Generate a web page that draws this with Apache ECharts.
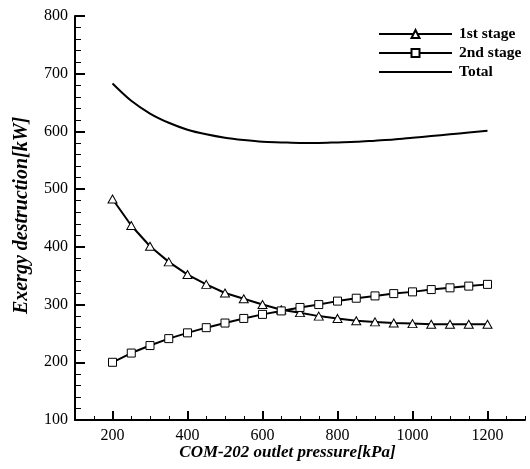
<!DOCTYPE html>
<html>
<head>
<meta charset="utf-8">
<style>
  html, body { margin: 0; padding: 0; background: #fff; }
  #chart { width: 530px; height: 469px; }
</style>
<script src="https://cdn.jsdelivr.net/npm/echarts@6/dist/echarts.min.js"></script>
</head>
<body>
<div id="chart"></div>
<script>
// Data
const pressure = [200, 250, 300, 350, 400, 450, 500, 550, 600, 650, 700, 750, 800, 850, 900, 950, 1000, 1050, 1100, 1150, 1200];
const firstStage = [483, 437, 401, 374, 352, 335, 320, 310, 300, 291, 286, 280, 276, 272, 270, 268, 267, 266, 266, 266, 266];
const secondStage = [200, 216, 229, 241, 251, 260, 268, 276, 283, 289, 295, 300, 306, 311, 315, 319, 322, 326, 329, 332, 335];
const total = [683, 653, 631, 615, 603, 595, 589, 585, 582, 581, 580, 580, 581, 582, 584, 586, 589, 592, 595, 598, 601];
const xMajorTicks = [200, 400, 600, 800, 1000, 1200];
const seriesNames = ['1st stage', '2nd stage', 'Total'];

const FONT = '"Liberation Serif", "Times New Roman", serif';

function pairs(xs, ys) { return xs.map((x, i) => [x, ys[i]]); }

const chart = echarts.init(document.getElementById('chart'), null, { renderer: 'canvas' });

const lineStyle = { color: '#000', width: 2 };
const markerStyle = { color: '#fff', borderColor: '#000', borderWidth: 1 };

chart.setOption({
  backgroundColor: '#fff',
  animation: false,
  grid: { left: 75, right: 5, top: 16, bottom: 49, containLabel: false },
  legend: {
    orient: 'vertical',
    left: 373,
    top: 21,
    itemWidth: 73,
    itemHeight: 10,
    itemGap: 3,
    data: [
      { name: seriesNames[0] },
      { name: seriesNames[1] },
      { name: seriesNames[2], itemStyle: { color: 'rgba(0,0,0,0)', borderColor: 'rgba(0,0,0,0)', borderWidth: 0, opacity: 0 } }
    ],
    textStyle: { fontFamily: FONT, fontSize: 15.5, fontWeight: 'bold', color: '#000', padding: [0, 0, 0, 2] }
  },
  xAxis: [
    {
      type: 'value', min: 100, max: 1300, interval: 50,
      axisLine: { show: true, lineStyle: { color: '#000', width: 2 } },
      axisTick: { show: true, inside: true, length: 4, lineStyle: { color: '#000', width: 1 } },
      axisLabel: { show: false },
      splitLine: { show: false },
      name: 'COM-202 outlet pressure[kPa]',
      nameLocation: 'middle',
      nameGap: 24,
      nameTextStyle: { fontFamily: FONT, fontSize: 17, fontWeight: 'bold', fontStyle: 'italic', color: '#000', padding: [0, 25, 0, 0] }
    },
    {
      type: 'value', min: 100, max: 1300, position: 'bottom',
      axisLine: { show: false },
      axisTick: { show: true, inside: true, length: 9, customValues: xMajorTicks, lineStyle: { color: '#000', width: 2 } },
      axisLabel: { show: true, customValues: xMajorTicks, margin: 8, fontFamily: FONT, fontSize: 16, color: '#000',
                   formatter: (v) => String(v) },
      splitLine: { show: false }
    }
  ],
  yAxis: {
    type: 'value', min: 100, max: 800, interval: 100,
    axisLine: { show: true, lineStyle: { color: '#000', width: 2 } },
    axisTick: { show: true, inside: true, length: 10, lineStyle: { color: '#000', width: 2 } },
    minorTick: { show: true, splitNumber: 5, length: 6, lineStyle: { color: '#000', width: 1 } },
    axisLabel: { margin: 7, fontFamily: FONT, fontSize: 16, color: '#000' },
    splitLine: { show: false },
    name: 'Exergy destruction[kW]',
    nameLocation: 'middle',
    nameGap: 43,
    nameTextStyle: { fontFamily: FONT, fontSize: 20, fontWeight: 'bold', fontStyle: 'italic', color: '#000', padding: [0, 0, 0, 5] }
  },
  series: [
    {
      name: seriesNames[0], type: 'line', xAxisIndex: 0,
      data: pairs(pressure, firstStage),
      symbol: 'triangle', symbolSize: [9, 8], showAllSymbol: true,
      lineStyle: lineStyle, itemStyle: markerStyle, z: 3
    },
    {
      name: seriesNames[1], type: 'line', xAxisIndex: 0,
      data: pairs(pressure, secondStage),
      symbol: 'rect', symbolSize: 8, showAllSymbol: true,
      lineStyle: lineStyle, itemStyle: markerStyle, z: 4
    },
    {
      name: seriesNames[2], type: 'line', xAxisIndex: 0,
      data: pairs(pressure, total),
      symbol: 'none', smooth: 0.3,
      lineStyle: lineStyle, itemStyle: { color: '#000' }
    }
  ]
});
</script>
</body>
</html>
